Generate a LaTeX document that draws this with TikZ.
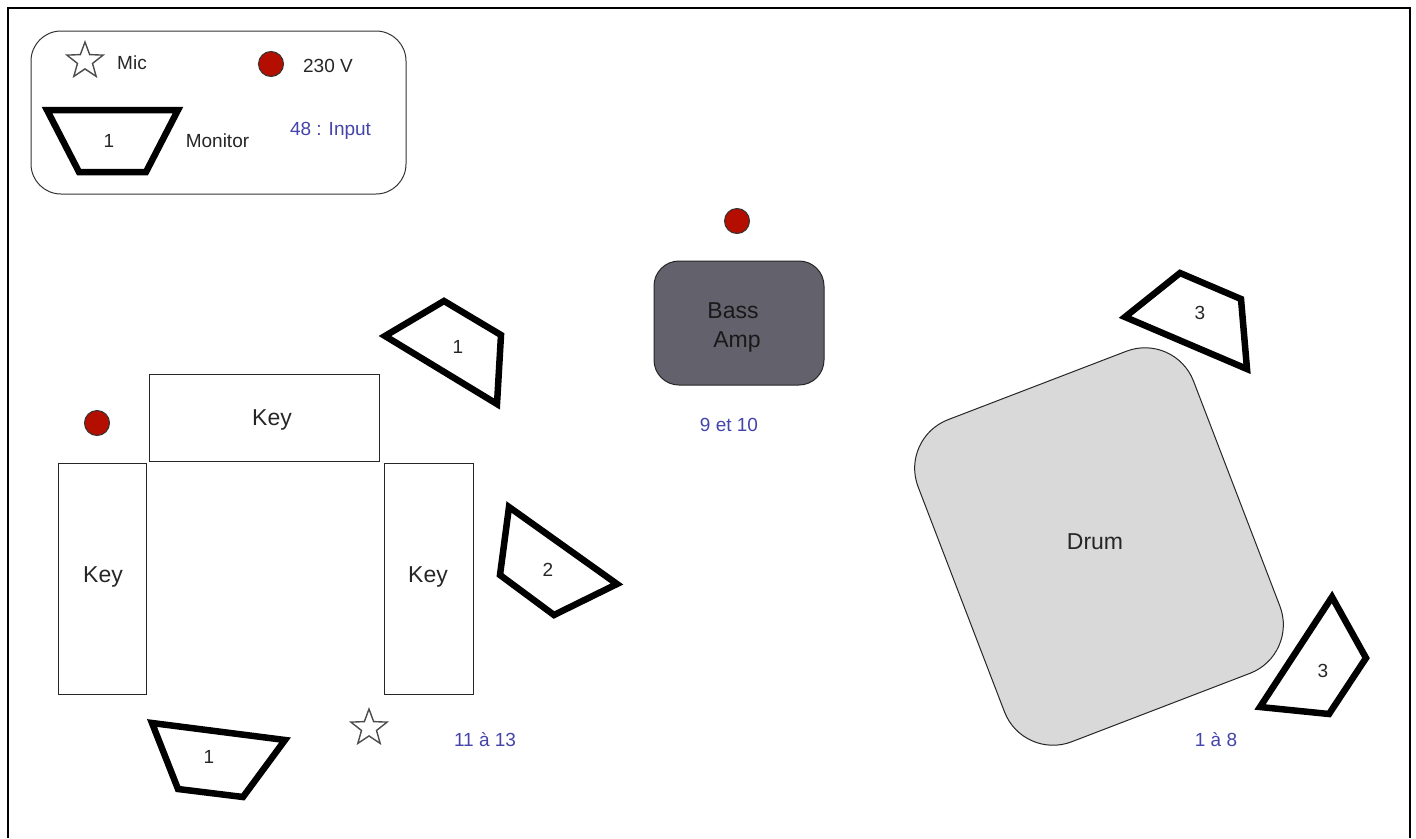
\documentclass[tikz,border=0pt]{standalone}
\usepackage{fontspec}
\setmainfont{Liberation Sans}
\usetikzlibrary{shapes.geometric}
\definecolor{dotred}{HTML}{B40E00}
\definecolor{inblue}{HTML}{4444AA}
\definecolor{ampgrey}{HTML}{63616C}
\definecolor{drumgrey}{HTML}{D9D9D9}
\definecolor{edgegrey}{HTML}{333333}
\tikzset{
 every node/.style={inner sep=0pt,outer sep=0pt},
 big/.style={font=\fontsize{23}{27}\selectfont,text=black!85,align=center},
 small/.style={font=\fontsize{19}{22}\selectfont,text=black!85},
 blue label/.style={font=\fontsize{19}{22}\selectfont,text=inblue},
 monitor/.style={draw=black,line width=6.5pt,line join=miter,fill=white},
 power/.style={circle,draw=edgegrey,line width=1pt,fill=dotred,minimum size=25pt},
 mic/.style={star,star points=5,star point ratio=2.4,draw=black!70,line width=1.4pt,fill=white,minimum size=38pt},
 keybox/.style={rectangle,draw=black!85,line width=1pt,fill=white},
}
\begin{document}
\begin{tikzpicture}[x=1pt,y=-1pt]
\useasboundingbox (0,0) rectangle (1416,838);
\fill[white] (0,0) rectangle (1416,838);
% page frame
\draw[black,line width=1.3pt] (8,838) -- (8,8) -- (1410,8) -- (1410,838);
% legend
\node[draw=black!80,line width=1pt,rounded corners=30pt,minimum width=375pt,minimum height=163pt] (legend) at (218.5,112.5) {};
\node[mic] (legendmic) at (85,61) {};
\node[small] (mictext) at (132,63) {Mic};
\node[power] (legendpower) at (271,64) {};
\node[small] (powertext) at (328,66) {230 V};
\draw[monitor] (47,110) -- (178,110) -- (146,172) -- (79,172) -- cycle;
\node[small] (legendnum) at (109,141) {1};
\node[small] (monitortext) at (217.5,141) {Monitor};
\node[blue label] (inputtext) at (330.5,131) {48 : Input};
% amp
\node[power] (amppower) at (737,221) {};
\node[draw=black!85,line width=1pt,fill=ampgrey,rounded corners=25pt,minimum width=170pt,minimum height=124pt] (amp) at (739,323) {};
\node[big,text=black!90] (amptext1) at (733,311) {Bass};
\node[big,text=black!90] (amptext2) at (737,342) {Amp};
\node[blue label] (amprange) at (729,425) {9 et 10};
% keys
\node[power] (keypower) at (97,423) {};
\node[keybox,minimum width=230pt,minimum height=87pt] (keytop) at (264,417.5) {};
\node[big] (keytoptext) at (272,420) {Key};
\node[keybox,minimum width=88pt,minimum height=231pt] (keyleft) at (102,578.5) {};
\node[big] (keylefttext) at (103,577) {Key};
\node[keybox,minimum width=89pt,minimum height=231pt] (keyright) at (428.5,578.5) {};
\node[big] (keyrighttext) at (428,577) {Key};
\node[blue label] (keyrange) at (485,740) {11 à 13};
\node[mic] (keymic) at (369,728) {};
% monitors
\draw[monitor] (385,336) -- (444,301) -- (501,335) -- (497,404) -- cycle;
\node[small] (mona) at (458,347) {1};
\draw[monitor] (509,507) -- (617,584) -- (554,615) -- (500,575) -- cycle;
\node[small] (monb) at (548,570) {2};
\draw[monitor] (152,723) -- (285,740) -- (243,797) -- (178,789) -- cycle;
\node[small] (monc) at (209,757) {1};
\draw[monitor] (1125,317) -- (1180,273) -- (1241,299) -- (1247,369) -- cycle;
\node[small] (mond) at (1200,313) {3};
\draw[monitor] (1332,597) -- (1366,658) -- (1329,714) -- (1260,707) -- cycle;
\node[small] (mone) at (1323,671) {3};
% drum
\node[draw=black!85,line width=1pt,fill=drumgrey,rounded corners=52pt,minimum width=295pt,minimum height=345pt,rotate=21] (drum) at (1099,546.5) {};
\node[big] (drumtext) at (1095,542) {Drum};
\node[blue label] (drumrange) at (1216,740) {1 à 8};
\end{tikzpicture}
\end{document}
